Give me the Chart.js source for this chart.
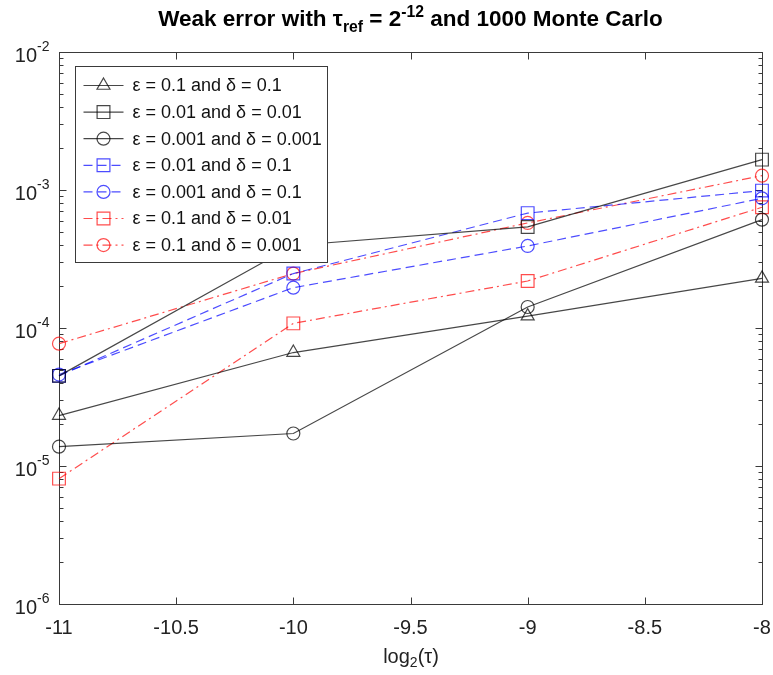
<!DOCTYPE html>
<html>
<script src="https://cdn.jsdelivr.net/npm/chart.js@4.4.1/dist/chart.umd.min.js"></script>
<body style="margin:0;background:#fff">

<canvas id="myChart" width="773" height="675"></canvas>

<script>

    // log2(tau) values and tick labels
    const xValues = [-11, -10, -9, -8];
    const xTicks = [-11, -10.5, -10, -9.5, -9, -8.5, -8];
    const yExponents = [-6, -5, -4, -3, -2];

    // weak error for each (epsilon, delta) pair
    const errE1D1 = [2.32e-5, 6.64e-5, 1.22e-4, 2.29e-4];
    const errE2D2 = [4.5e-5, 3.96e-4, 5.4e-4, 1.66e-3];
    const errE3D3 = [1.38e-5, 1.72e-5, 1.42e-4, 6.1e-4];
    const errE2D1 = [4.5e-5, 2.48e-4, 6.8e-4, 9.9e-4];
    const errE3D1 = [4.6e-5, 1.96e-4, 3.93e-4, 8.7e-4];
    const errE1D2 = [8.1e-6, 1.08e-4, 2.19e-4, 7.5e-4];
    const errE1D3 = [7.7e-5, 2.48e-4, 5.77e-4, 1.27e-3];

    const seriesNames = [
        "ε = 0.1 and δ = 0.1",
        "ε = 0.01 and δ = 0.01",
        "ε = 0.001 and δ = 0.001",
        "ε = 0.01 and δ = 0.1",
        "ε = 0.001 and δ = 0.1",
        "ε = 0.1 and δ = 0.01",
        "ε = 0.1 and δ = 0.001"
    ];

    const black = "rgba(0,0,0,0.72)";
    const blue = "rgba(0,0,255,0.7)";
    const red = "rgba(255,0,0,0.7)";
    const dashed = [9, 5];
    const dashDot = [9, 4, 2, 4];
    const font = "'Liberation Sans', Arial, sans-serif";

    function makeSet(label, vals, color, dash, style) {
        const r = style === "rect" ? 9 : (style === "triangle" ? 7.5 : 6.5);
        return {
            label: label,
            data: xValues.map((x, i) => ({x: x, y: vals[i]})),
            borderColor: color,
            backgroundColor: "transparent",
            borderWidth: 1.2,
            borderDash: dash,
            pointStyle: style,
            pointRadius: r,
            pointHoverRadius: r,
            pointBorderColor: color,
            pointBackgroundColor: "transparent",
            pointBorderWidth: 1.2,
            tension: 0,
            fill: false,
            clip: false
        };
    }

    const datasets = [
        makeSet(seriesNames[0], errE1D1, black, [], "triangle"),
        makeSet(seriesNames[1], errE2D2, black, [], "rect"),
        makeSet(seriesNames[2], errE3D3, black, [], "circle"),
        makeSet(seriesNames[3], errE2D1, blue, dashed, "rect"),
        makeSet(seriesNames[4], errE3D1, blue, dashed, "circle"),
        makeSet(seriesNames[5], errE1D2, red, dashDot, "rect"),
        makeSet(seriesNames[6], errE1D3, red, dashDot, "circle")
    ];

    function marker(ctx, style, x, y) {
        ctx.beginPath();
        if (style === "circle") {
            ctx.arc(x, y, 6.5, 0, Math.PI * 2);
        } else if (style === "rect") {
            ctx.rect(x - 6.4, y - 6.4, 12.8, 12.8);
        } else {
            const r = 7.5;
            ctx.moveTo(x, y - r);
            ctx.lineTo(x + r * Math.sqrt(3) / 2, y + r / 2);
            ctx.lineTo(x - r * Math.sqrt(3) / 2, y + r / 2);
            ctx.closePath();
        }
        ctx.stroke();
    }

    // text with small raised / lowered parts
    function richText(ctx, parts, x, y, size, weight) {
        let cx = x;
        parts.forEach(p => {
            const s = p.mode ? size * 0.7 : size;
            ctx.font = weight + " " + s + "px " + font;
            const dy = p.mode === "sup" ? -size * 0.42 : (p.mode === "sub" ? size * 0.28 : 0);
            ctx.fillText(p.t, cx, y + dy);
            cx += ctx.measureText(p.t).width;
        });
        return cx;
    }
    function richWidth(ctx, parts, size, weight) {
        let w = 0;
        parts.forEach(p => {
            const s = p.mode ? size * 0.7 : size;
            ctx.font = weight + " " + s + "px " + font;
            w += ctx.measureText(p.t).width;
        });
        return w;
    }

    const axesBox = {
        id: "axesBox",
        beforeDatasetsDraw(chart) {
            const {ctx, chartArea: a, scales: {x, y}} = chart;
            const L = Math.round(a.left) + 0.5, R = Math.round(a.right) + 0.5;
            const T = Math.round(a.top) + 0.5, B = Math.round(a.bottom) + 0.5;
            ctx.save();
            ctx.strokeStyle = "#3a3a3a";
            ctx.lineWidth = 1;
            ctx.strokeRect(L, T, R - L, B - T);
            ctx.beginPath();
            xTicks.forEach(v => {
                const px = Math.round(x.getPixelForValue(v)) + 0.5;
                ctx.moveTo(px, B); ctx.lineTo(px, B - 7);
                ctx.moveTo(px, T); ctx.lineTo(px, T + 7);
            });
            yExponents.forEach((e, i) => {
                const py = Math.round(y.getPixelForValue(Math.pow(10, e))) + 0.5;
                ctx.moveTo(L, py); ctx.lineTo(L + 7, py);
                ctx.moveTo(R, py); ctx.lineTo(R - 7, py);
                if (i < yExponents.length - 1) {
                    for (let m = 2; m <= 9; m++) {
                        const pm = Math.round(y.getPixelForValue(m * Math.pow(10, e))) + 0.5;
                        ctx.moveTo(L, pm); ctx.lineTo(L + 4, pm);
                        ctx.moveTo(R, pm); ctx.lineTo(R - 4, pm);
                    }
                }
            });
            ctx.stroke();

            // tick labels
            ctx.fillStyle = "#222";
            ctx.textBaseline = "middle";
            ctx.textAlign = "center";
            ctx.font = "20px " + font;
            xTicks.forEach(v => {
                ctx.fillText(String(v), x.getPixelForValue(v), B + 24);
            });
            ctx.textAlign = "left";
            yExponents.forEach(e => {
                const py = y.getPixelForValue(Math.pow(10, e));
                const parts = [{t: "10"}, {t: String(e), mode: "sup"}];
                const w = richWidth(ctx, parts, 20, "normal");
                richText(ctx, parts, L - 10 - w, py + 4, 20, "normal");
            });

            // axis title
            const xt = [{t: "log"}, {t: "2", mode: "sub"}, {t: "(τ)"}];
            const wx = richWidth(ctx, xt, 20, "normal");
            richText(ctx, xt, (L + R) / 2 - wx / 2, B + 53, 20, "normal");
            ctx.restore();
        },
        afterDatasetsDraw(chart) {
            const {ctx, chartArea: a} = chart;
            ctx.save();
            // legend box
            const lx = 75.5, ly = 66.5, lw = 252, lh = 196;
            ctx.fillStyle = "#fff";
            ctx.fillRect(lx, ly, lw, lh);
            ctx.strokeStyle = "#3a3a3a";
            ctx.lineWidth = 1;
            ctx.strokeRect(lx, ly, lw, lh);
            chart.data.datasets.forEach((ds, i) => {
                const cy = ly + 19 + i * 26.6;
                ctx.strokeStyle = ds.borderColor;
                ctx.lineWidth = 1.2;
                ctx.setLineDash(ds.borderDash);
                ctx.beginPath();
                ctx.moveTo(lx + 8, cy);
                ctx.lineTo(lx + 48, cy);
                ctx.stroke();
                ctx.setLineDash([]);
                marker(ctx, ds.pointStyle, lx + 28, cy);
                ctx.fillStyle = "#111";
                ctx.font = "18px " + font;
                ctx.textBaseline = "middle";
                ctx.fillText(ds.label, lx + 57, cy + 1);
            });

            // title
            ctx.fillStyle = "#000";
            ctx.textBaseline = "alphabetic";
            const tp = [{t: "Weak error with τ"}, {t: "ref", mode: "sub"}, {t: " = 2"},
                        {t: "-12", mode: "sup"}, {t: " and 1000 Monte Carlo"}];
            const tw = richWidth(ctx, tp, 22.5, "bold");
            richText(ctx, tp, (a.left + a.right) / 2 - tw / 2, 26, 22.5, "bold");
            ctx.restore();
        }
    };

    const myChart = document.getElementById("myChart");
    const chart = new Chart(myChart, {
        type: "line",
        data: {datasets: datasets},
        plugins: [axesBox],
        options: {
            responsive: false,
            animation: false,
            layout: {padding: {top: 52, right: 11, left: 0, bottom: 0}},
            plugins: {
                legend: {display: false},
                title: {display: false},
                tooltip: {enabled: false}
            },
            scales: {
                x: {
                    type: "linear",
                    min: -11,
                    max: -8,
                    grid: {display: false},
                    border: {display: false},
                    ticks: {display: false},
                    afterFit: s => { s.height = 71; }
                },
                y: {
                    type: "logarithmic",
                    min: 1e-6,
                    max: 1e-2,
                    grid: {display: false},
                    border: {display: false},
                    ticks: {display: false},
                    afterFit: s => { s.width = 59; }
                }
            }
        }
    });

</script>

</body>
</html>
